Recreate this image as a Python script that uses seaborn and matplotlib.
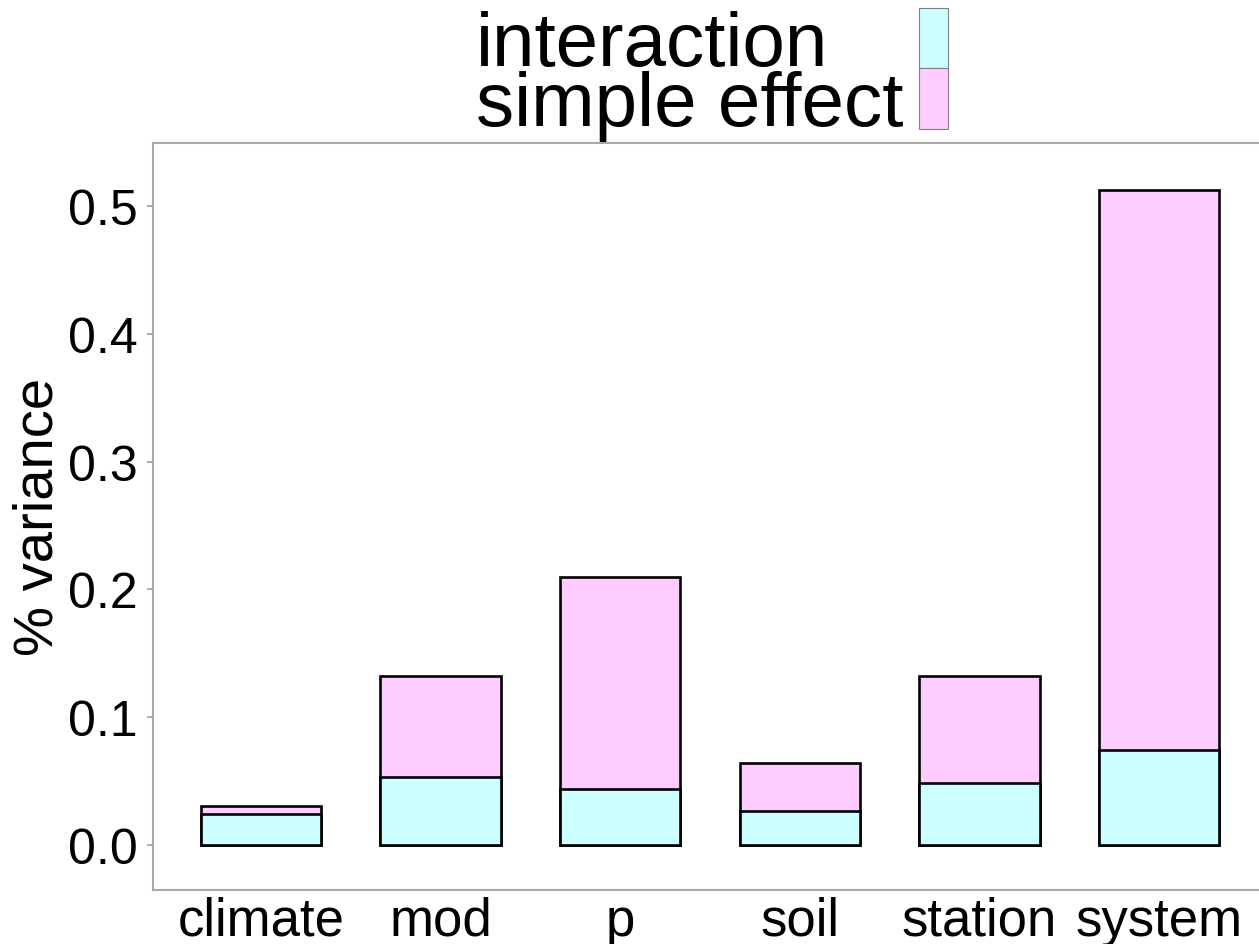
import matplotlib
matplotlib.use("Agg")
import matplotlib.pyplot as plt
import seaborn as sns
import pandas as pd
from matplotlib.patches import Patch

categories = ["climate", "mod", "p", "soil", "station", "system"]
interaction = [0.024, 0.053, 0.044, 0.026, 0.048, 0.074]
simple_effect = [0.006, 0.079, 0.166, 0.038, 0.084, 0.439]
y_ticks = [0.0, 0.1, 0.2, 0.3, 0.4, 0.5]
legend_labels = ["interaction", "simple effect"]

sns.set_theme(style="white")
plt.rcParams['font.family'] = ['Liberation Sans', 'DejaVu Sans']
plt.rcParams['text.color'] = 'black'
plt.rcParams['axes.labelcolor'] = 'black'
plt.rcParams['xtick.color'] = 'black'
plt.rcParams['ytick.color'] = 'black'

df = pd.DataFrame({
    "category": categories,
    "interaction": interaction,
    "total": [a + b for a, b in zip(interaction, simple_effect)],
})

cyan = "#CCFFFF"
pink = "#FFCCFF"

fig = plt.figure(figsize=(12.59, 9.45), dpi=100)
ax = fig.add_axes([153 / 1259, 1 - 891 / 945, (1267 - 153) / 1259, (891 - 143.5) / 945])

sns.barplot(data=df, x="category", y="total", color=pink, saturation=1,
            edgecolor="black", linewidth=1.9, width=0.67, ax=ax)
sns.barplot(data=df, x="category", y="interaction", color=cyan, saturation=1,
            edgecolor="black", linewidth=1.9, width=0.67, ax=ax)

ax.set_xlim(-0.6, 5.6)
ax.set_ylim(-0.0355, 0.550)
ax.set_yticks(y_ticks)
ax.set_yticklabels([f"{v:.1f}" for v in y_ticks])
ax.set_xlabel("")
ax.set_ylabel("% variance", fontsize=40.5, labelpad=2.5)
ax.tick_params(axis="y", labelsize=36, length=4, width=1.2, color="#A0A0A0",
               labelcolor="black", pad=7, left=True, direction="out")
ax.tick_params(axis="x", labelsize=38, length=0, pad=4, labelcolor="black")
for s in ["left", "top", "bottom"]:
    ax.spines[s].set_color("#A8A8A8")
    ax.spines[s].set_linewidth(1.5)
ax.spines["right"].set_visible(False)
ax.grid(False)

handles = [Patch(facecolor=cyan, edgecolor="#808080", linewidth=0.8),
           Patch(facecolor=pink, edgecolor="#808080", linewidth=0.8)]
leg = fig.legend(handles, legend_labels, loc="upper left", bbox_to_anchor=(476 / 1259, 1 - 9 / 945),
                 fontsize=55, frameon=False, markerfirst=False, handlelength=0.38,
                 handleheight=0.835, handletextpad=0.2, labelspacing=-0.16,
                 borderaxespad=0.0, borderpad=0.0)
# left-align the label texts, keys on the right
try:
    columns = leg._legend_handle_box.get_children()
    for col in columns:
        for item in col.get_children():
            item.mode = "expand"
            item.width = 472
        col.align = "left"
except Exception:
    pass

fig.savefig("out.png", dpi=100)
